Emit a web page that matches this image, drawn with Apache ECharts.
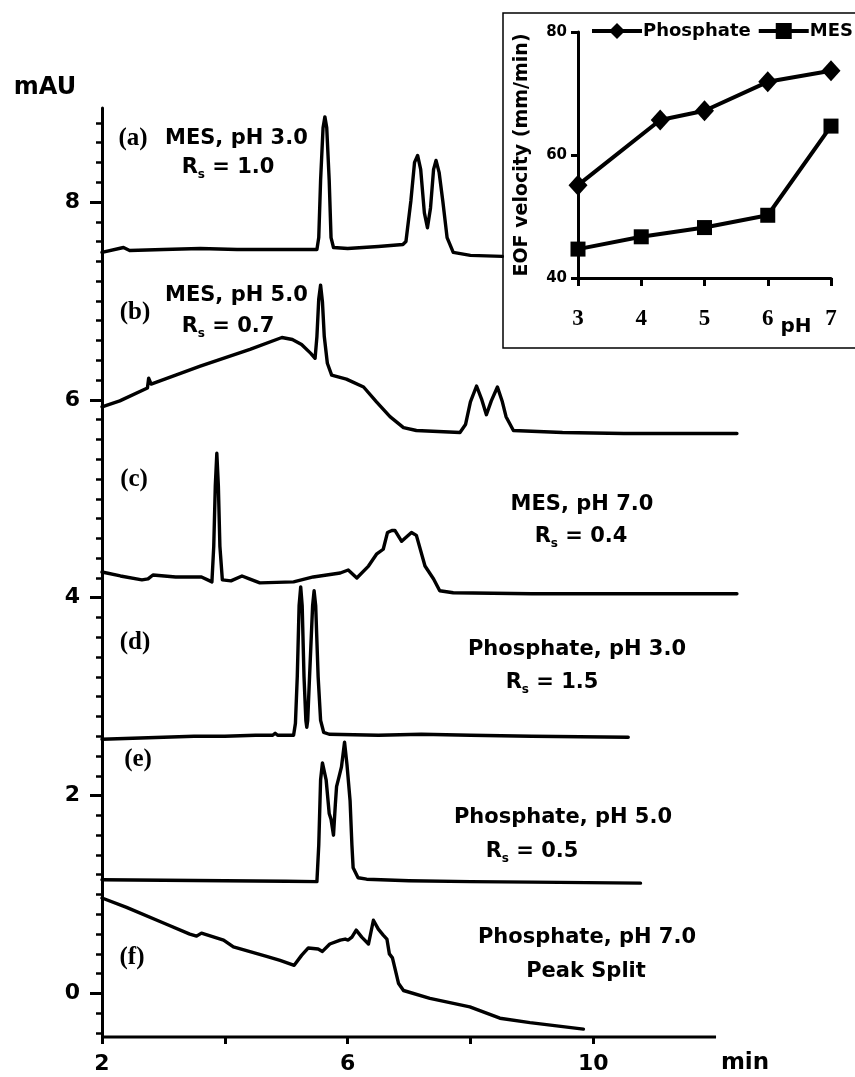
<!DOCTYPE html>
<html><head><meta charset="utf-8">
<script src="https://cdn.jsdelivr.net/npm/echarts@6/dist/echarts.min.js"></script>
<style>html,body{margin:0;padding:0;background:#fff}#c{width:855px;height:1077px}</style>
</head><body><div id="c"></div>
<script>
// ---- Main electropherograms (time in min, absorbance in mAU) ----
const traceA = [[2.00,7.49],[2.35,7.54],[2.45,7.51],[3.0,7.52],[3.6,7.53],[4.2,7.52],[4.8,7.52],[5.3,7.52],[5.50,7.52],[5.53,7.64],[5.56,8.22],[5.60,8.75],[5.63,8.86],[5.66,8.75],[5.70,8.22],[5.73,7.64],[5.77,7.54],[6.0,7.53],[6.5,7.55],[6.9,7.57],[6.95,7.60],[7.03,8.01],[7.09,8.40],[7.14,8.47],[7.19,8.33],[7.25,7.89],[7.30,7.74],[7.35,7.94],[7.40,8.33],[7.44,8.42],[7.49,8.30],[7.55,8.01],[7.62,7.64],[7.72,7.49],[8.0,7.46],[8.52,7.45]];
const traceB = [[2.00,5.93],[2.29,5.99],[2.74,6.12],[2.76,6.22],[2.80,6.16],[3.60,6.34],[4.41,6.51],[4.93,6.63],[5.10,6.61],[5.25,6.56],[5.40,6.47],[5.47,6.42],[5.50,6.64],[5.53,7.02],[5.56,7.16],[5.59,6.99],[5.62,6.64],[5.67,6.37],[5.74,6.25],[5.98,6.21],[6.26,6.13],[6.47,5.98],[6.69,5.83],[6.91,5.72],[7.12,5.69],[7.83,5.67],[7.92,5.75],[8.00,5.98],[8.10,6.14],[8.18,6.01],[8.26,5.85],[8.34,5.99],[8.44,6.13],[8.52,5.98],[8.58,5.83],[8.70,5.69],[9.5,5.67],[10.5,5.66],[12.34,5.66]];
const traceC = [[2.00,4.26],[2.30,4.22],[2.65,4.18],[2.75,4.19],[2.83,4.23],[3.20,4.21],[3.62,4.21],[3.79,4.16],[3.82,4.52],[3.845,5.13],[3.87,5.46],[3.895,5.13],[3.92,4.52],[3.96,4.18],[4.10,4.17],[4.28,4.22],[4.40,4.19],[4.57,4.15],[5.12,4.16],[5.44,4.21],[5.88,4.25],[6.01,4.28],[6.15,4.20],[6.34,4.32],[6.47,4.44],[6.58,4.49],[6.65,4.66],[6.72,4.68],[6.77,4.68],[6.88,4.57],[7.04,4.66],[7.12,4.63],[7.26,4.32],[7.40,4.19],[7.50,4.07],[7.72,4.05],[9.0,4.04],[12.34,4.04]];
const traceD = [[2.00,2.57],[2.5,2.58],[3.0,2.59],[3.5,2.60],[4.0,2.60],[4.5,2.61],[4.78,2.61],[4.82,2.63],[4.86,2.61],[5.12,2.61],[5.15,2.73],[5.18,3.2],[5.21,3.92],[5.236,4.11],[5.26,3.92],[5.29,3.2],[5.32,2.76],[5.335,2.69],[5.35,2.76],[5.38,3.2],[5.43,3.92],[5.454,4.07],[5.48,3.92],[5.52,3.2],[5.56,2.76],[5.61,2.64],[5.7,2.62],[6.5,2.61],[7.2,2.62],[8.0,2.61],[9.0,2.60],[10.57,2.59]];
const traceE = [[2.00,1.15],[3.0,1.145],[4.0,1.14],[5.0,1.135],[5.50,1.13],[5.53,1.5],[5.56,2.16],[5.59,2.33],[5.62,2.35],[5.65,2.16],[5.70,1.82],[5.73,1.76],[5.77,1.60],[5.80,1.91],[5.82,2.09],[5.86,2.19],[5.90,2.29],[5.95,2.54],[5.99,2.31],[6.04,1.95],[6.07,1.5],[6.09,1.27],[6.17,1.17],[6.31,1.155],[7.0,1.14],[8.0,1.13],[9.0,1.125],[10.77,1.115]];
const traceF = [[2.00,0.965],[2.40,0.87],[3.05,0.70],[3.43,0.60],[3.54,0.58],[3.62,0.61],[3.98,0.54],[4.14,0.47],[4.68,0.375],[4.90,0.335],[5.13,0.285],[5.25,0.385],[5.36,0.46],[5.52,0.45],[5.59,0.425],[5.71,0.50],[5.88,0.54],[5.96,0.55],[6.01,0.54],[6.07,0.57],[6.14,0.64],[6.23,0.57],[6.34,0.50],[6.42,0.74],[6.50,0.65],[6.58,0.59],[6.64,0.55],[6.68,0.40],[6.73,0.36],[6.83,0.10],[6.91,0.03],[7.34,-0.05],[7.99,-0.135],[8.48,-0.25],[8.97,-0.295],[9.84,-0.36]];

// axis ticks / labels
const yMajor = [0, 2, 4, 6, 8];
const yMinor = [-0.4,-0.2,0.2,0.4,0.6,0.8,1.0,1.2,1.4,1.6,1.8,2.2,2.4,2.6,2.8,3.0,3.2,3.4,3.6,3.8,4.2,4.4,4.6,4.8,5.0,5.2,5.4,5.6,5.8,6.2,6.4,6.6,6.8,7.0,7.2,7.4,7.6,7.8,8.2,8.4,8.6,8.8];
const xTicks = [2, 4, 6, 8, 10];
const xLabels = [2, 6, 10];
const xAxisLine = [[2, -0.44], [12, -0.44]];

// ---- Inset: EOF velocity vs pH ----
const phPhosphate = [3, 4.3, 5, 6, 7];
const eofPhosphate = [55.1, 65.7, 67.2, 71.9, 73.7];
const phMES = [3, 4, 5, 6, 7];
const eofMES = [44.7, 46.7, 48.2, 50.2, 64.7];

const SANS = 'DejaVu Sans';
const SERIF = 'Liberation Serif';
const chart = echarts.init(document.getElementById('c'), null, {renderer: 'canvas'});

function trace(name, data) {
  return {name, type: 'line', xAxisIndex: 0, yAxisIndex: 0, data, showSymbol: false, symbol: 'none',
    lineStyle: {color: '#000', width: 3.4, join: 'round', cap: 'round'}, itemStyle: {color: '#000'}, silent: true, clip: false, z: 3};
}
function txt(x, y, text, font, size, align, rich) {
  const o = {type: 'text', x, y, z: 20, style: {text, fill: '#000', font: 'bold ' + size + 'px "' + font + '"', align: align || 'center', verticalAlign: 'middle'}};
  if (rich) o.style.rich = rich;
  return o;
}
const rs = {
  r: {fontFamily: SANS, fontWeight: 'bold', fontSize: 21, lineHeight: 26, fill: '#000', color: '#000'},
  s: {fontFamily: SANS, fontWeight: 'bold', fontSize: 12, lineHeight: 12, verticalAlign: 'bottom', fill: '#000', color: '#000'}
};
function rsTxt(x, y, val) {
  return txt(x, y, '{r|R}{s|s}{r| = ' + val + '}', SANS, 21, 'center', rs);
}

const option = {
  animation: false,
  backgroundColor: '#fff',
  grid: [
    {left: 102, top: 108, right: 114.4, bottom: 40, containLabel: false},
    {left: 578, top: 32, right: 24, bottom: 799, containLabel: false}
  ],
  xAxis: [
    {type: 'value', gridIndex: 0, min: 2, max: 12.4, position: 'bottom',
      axisLine: {show: false, onZero: false}, splitLine: {show: false},
      axisTick: {show: true, customValues: xTicks, length: 7, lineStyle: {color: '#000', width: 3}},
      axisLabel: {customValues: xLabels, color: '#000', fontFamily: SANS, fontWeight: 'bold', fontSize: 22, margin: 16}},
    {type: 'value', gridIndex: 1, min: 3, max: 7, interval: 1,
      axisLine: {show: true, onZero: false, lineStyle: {color: '#000', width: 3}}, splitLine: {show: false},
      axisTick: {show: true, length: 8, lineStyle: {color: '#000', width: 3}},
      axisLabel: {color: '#000', fontFamily: SERIF, fontWeight: 'bold', fontSize: 23, margin: 30}}
  ],
  yAxis: [
    {type: 'value', gridIndex: 0, min: -0.44, max: 8.95,
      axisLine: {show: true, onZero: false, lineStyle: {color: '#000', width: 3}}, splitLine: {show: false},
      axisTick: {show: true, customValues: yMajor, length: 12, lineStyle: {color: '#000', width: 3}},
      axisLabel: {customValues: yMajor, color: '#000', fontFamily: SANS, fontWeight: 'bold', fontSize: 22, margin: 22}},
    {type: 'value', gridIndex: 0, min: -0.44, max: 8.95, position: 'left',
      axisLine: {show: false, onZero: false}, splitLine: {show: false},
      axisTick: {show: true, customValues: yMinor, length: 6, lineStyle: {color: '#000', width: 2.5}},
      axisLabel: {show: false}},
    {type: 'value', gridIndex: 1, min: 40, max: 80, interval: 20,
      name: 'EOF velocity (mm/min)', nameLocation: 'middle', nameGap: 46, nameRotate: 90,
      nameTextStyle: {color: '#000', fontFamily: SANS, fontWeight: 'bold', fontSize: 19},
      axisLine: {show: true, onZero: false, lineStyle: {color: '#000', width: 3}}, splitLine: {show: false},
      axisTick: {show: true, length: 7, lineStyle: {color: '#000', width: 3}},
      axisLabel: {color: '#000', fontFamily: SANS, fontWeight: 'bold', fontSize: 15, margin: 11}}
  ],
  legend: {
    left: 590, top: 22, width: 300, padding: 0, itemWidth: 50, itemHeight: 20, itemGap: 6,
    orient: 'horizontal',
    data: ['Phosphate', 'MES'],
    lineStyle: {width: 4, color: '#000'},
    textStyle: {color: '#000', fontFamily: SANS, fontWeight: 'bold', fontSize: 18, padding: [0, 0, 0, -4]}
  },
  series: [
    trace('a', traceA), trace('b', traceB), trace('c', traceC),
    trace('d', traceD), trace('e', traceE), trace('f', traceF),
    {name: 'xaxis', type: 'line', xAxisIndex: 0, yAxisIndex: 0, data: xAxisLine, symbol: 'none', silent: true, clip: false,
      lineStyle: {color: '#000', width: 3}, z: 4},
    {name: 'Phosphate', type: 'line', xAxisIndex: 1, yAxisIndex: 2,
      data: phPhosphate.map((p, i) => [p, eofPhosphate[i]]),
      symbol: 'diamond', symbolSize: [19, 21], showSymbol: true,
      lineStyle: {color: '#000', width: 4}, itemStyle: {color: '#000'}, z: 5},
    {name: 'MES', type: 'line', xAxisIndex: 1, yAxisIndex: 2,
      data: phMES.map((p, i) => [p, eofMES[i]]),
      symbol: 'rect', symbolSize: 15, showSymbol: true,
      lineStyle: {color: '#000', width: 4}, itemStyle: {color: '#000'}, z: 5}
  ],
  graphic: [
    {type: 'rect', shape: {x: 503, y: 13, width: 370, height: 335}, style: {fill: 'none', stroke: '#000', lineWidth: 1.5}, z: 1, silent: true},
    txt(45, 88, 'mAU', SANS, 24),
    txt(745, 1063, 'min', SANS, 23),
    txt(796, 327, 'pH', SANS, 20),
    txt(133, 139, '(a)', SERIF, 25), txt(165, 139, 'MES, pH 3.0', SANS, 21, 'left'), rsTxt(228, 168, '1.0'),
    txt(135, 313, '(b)', SERIF, 25), txt(165, 296, 'MES, pH 5.0', SANS, 21, 'left'), rsTxt(228, 327, '0.7'),
    txt(134, 480, '(c)', SERIF, 25), txt(582, 505, 'MES, pH 7.0', SANS, 21), rsTxt(581, 537, '0.4'),
    txt(135, 643, '(d)', SERIF, 25), txt(577, 650, 'Phosphate, pH 3.0', SANS, 21), rsTxt(552, 683, '1.5'),
    txt(138, 760, '(e)', SERIF, 25), txt(563, 818, 'Phosphate, pH 5.0', SANS, 21), rsTxt(532, 852, '0.5'),
    txt(132, 958, '(f)', SERIF, 25), txt(587, 938, 'Phosphate, pH 7.0', SANS, 21), txt(586, 972, 'Peak Split', SANS, 21)
  ]
};
chart.setOption(option);
</script></body></html>
